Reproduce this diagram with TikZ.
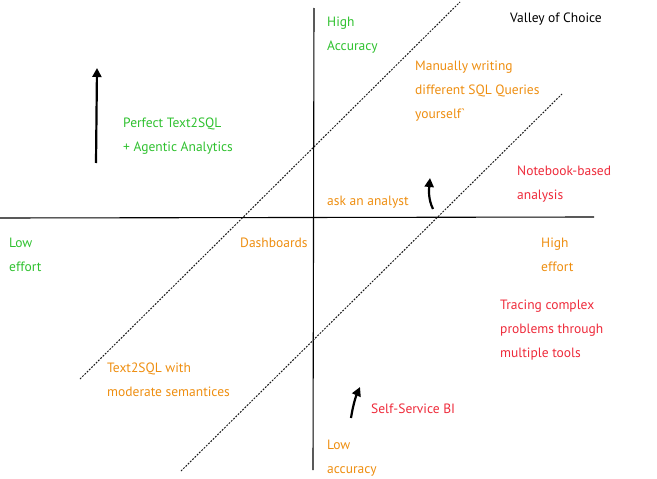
\documentclass[tikz,border=0pt]{standalone}
\usepackage{fontspec}
\setmainfont{PT Sans}
\usetikzlibrary{arrows.meta}
\definecolor{cgreen}{HTML}{2FC12F}
\definecolor{corange}{HTML}{EE8E10}
\definecolor{cred}{HTML}{EE2A3A}
\tikzset{
  lbl/.style={anchor=base west, inner sep=0pt, align=left, font=\fontsize{13.5}{24}\selectfont},
  axis/.style={line width=1.1pt, black},
  diag/.style={line width=1pt, black!90, dash pattern=on 1.8pt off 1.4pt},
  move/.style={line width=2.2pt, black, -{Triangle[length=9pt,width=9pt]}}
}
\begin{document}
\begin{tikzpicture}[x=1pt,y=-1pt]
\useasboundingbox (0,0) rectangle (657,479);
% axes
\coordinate (xl) at (0,218);
\coordinate (xr) at (594,217);
\coordinate (yt) at (314,8);
\coordinate (yb) at (313,470);
\draw[axis] (xl) -- (xr);
\draw[axis] (yt) -- (yb);
% diagonals
\coordinate (d1a) at (80,379);
\coordinate (d1b) at (460,2);
\coordinate (d2a) at (181,471);
\coordinate (d2b) at (562,94);
\draw[diag] (d1a) -- (d1b);
\draw[diag] (d2a) -- (d2b);
% arrows
\coordinate (a1s) at (96,163);
\coordinate (a1e) at (97,68);
\draw[move] (a1s) -- (a1e);
\coordinate (a2s) at (433,209);
\coordinate (a2e) at (430,178);
\draw[move] (a2s) .. controls (428,199) and (429,189) .. (a2e);
\coordinate (a3s) at (351,418);
\coordinate (a3e) at (360,387);
\draw[move] (a3s) .. controls (353,405) and (356,396) .. (a3e);
% labels (anchor = baseline of last line)
\node[lbl, text=cgreen] (hacc) at (327,50) {High\\Accuracy};
\node[lbl, text=black] (valley) at (510,23) {Valley of Choice};
\node[lbl, text=corange] (manual) at (415,118) {Manually writing\\different SQL Queries\\yourself\textasciigrave};
\node[lbl, text=cgreen] (perfect) at (123,151) {Perfect Text2SQL\\+ Agentic Analytics};
\node[lbl, text=corange] (analyst) at (327,205) {ask an analyst};
\node[lbl, text=cred] (notebook) at (517,199) {Notebook-based\\analysis};
\node[lbl, text=corange] (heff) at (541,271) {High\\effort};
\node[lbl, text=cgreen] (leff) at (9,271) {Low\\effort};
\node[lbl, text=corange] (dash) at (240,247) {Dashboards};
\node[lbl, text=corange] (t2s) at (107,396) {Text2SQL with\\moderate semantices};
\node[lbl, text=cred] (trace) at (500,357) {Tracing complex\\problems through\\multiple tools};
\node[lbl, text=cred] (ssbi) at (371,413) {Self-Service BI};
\node[lbl, text=corange] (lacc) at (327,473) {Low\\accuracy};
\end{tikzpicture}
\end{document}
